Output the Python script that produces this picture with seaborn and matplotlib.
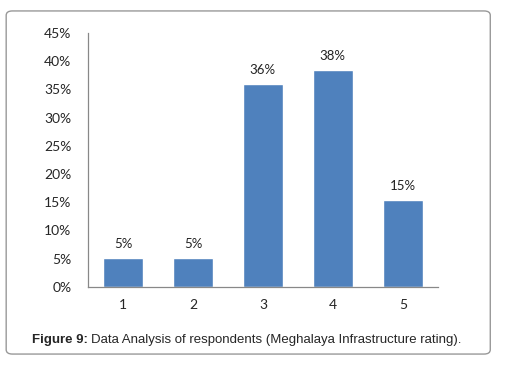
import matplotlib
matplotlib.use("Agg")
import matplotlib.pyplot as plt
from matplotlib.patches import FancyBboxPatch
import seaborn as sns
import pandas as pd

ratings = ["1", "2", "3", "4", "5"]
shares = [5.1, 5.1, 35.9, 38.4, 15.4]
yticks = [0, 5, 10, 15, 20, 25, 30, 35, 40, 45]

df = pd.DataFrame({"rating": ratings, "share": shares})

sns.set_style("white")
plt.rcParams['font.family'] = ['Lato', 'DejaVu Sans']

fig = plt.figure(figsize=(5.15, 3.65), dpi=100)
ax = fig.add_axes([0.171, 0.214, 0.679, 0.696])

sns.barplot(data=df, x="rating", y="share", color="#4F81BD", saturation=1,
            width=0.57, ax=ax)

for c in ax.containers:
    ax.bar_label(c, labels=[f"{v:.0f}%" for v in shares], padding=6,
                 fontsize=9.5, color="#222222")

ax.set_ylim(0, 45)
ax.set_yticks(yticks)
ax.set_yticklabels([f"{t}%" for t in yticks], fontsize=10)
ax.tick_params(axis="x", labelsize=10, pad=9, length=0)
ax.tick_params(axis="y", pad=12, length=0)
ax.set_xlabel("")
ax.set_ylabel("")
for s in ["top", "right"]:
    ax.spines[s].set_visible(False)
for s in ["left", "bottom"]:
    ax.spines[s].set_color("#888888")
    ax.spines[s].set_linewidth(0.9)

# rounded frame around figure
box = FancyBboxPatch((0.012, 0.03), 0.94, 0.94,
                     boxstyle="round,pad=0,rounding_size=0.012",
                     transform=fig.transFigure, fill=False,
                     edgecolor="#999999", linewidth=1)
fig.patches.append(box)

# caption: bold lead-in followed by plain text
t1 = fig.text(0.062, 0.068, "Figure 9:", fontsize=9.5, fontweight="bold",
              family=["Liberation Sans"], ha="left", va="center")
fig.canvas.draw()
bb = t1.get_window_extent()
x2 = (bb.x1 + 3) / fig.bbox.width
fig.text(x2, 0.068, "Data Analysis of respondents (Meghalaya Infrastructure rating).",
         fontsize=9.5, family=["Liberation Sans"], ha="left", va="center")

fig.savefig("out.png", dpi=100)
